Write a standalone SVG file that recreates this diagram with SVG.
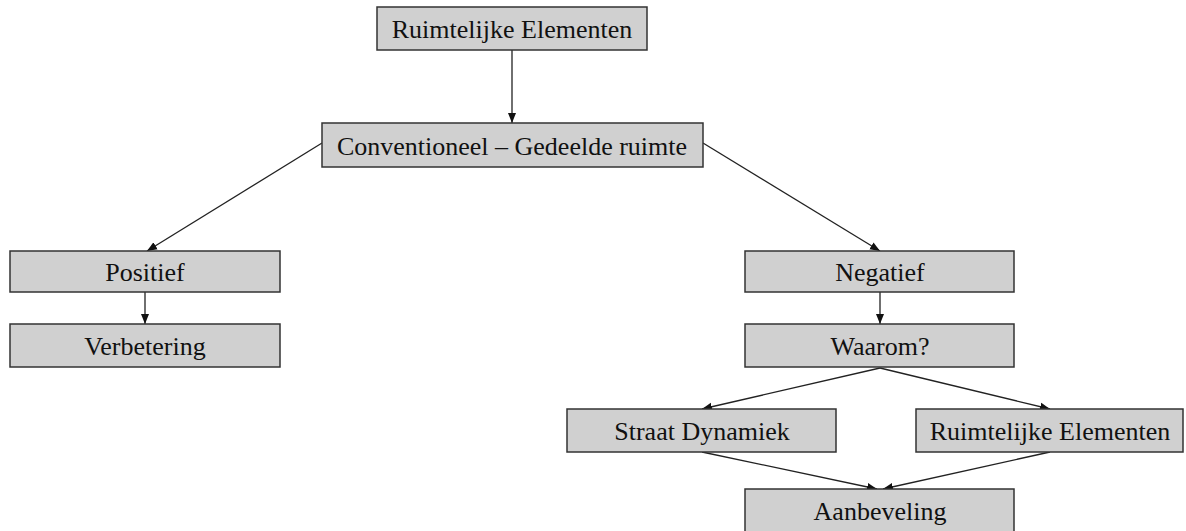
<svg xmlns="http://www.w3.org/2000/svg" width="1186" height="531" viewBox="0 0 1186 531">
<style>
.box{fill:#d0d0d0;stroke:#333;stroke-width:1.5}
.lbl{font-family:"Liberation Serif","Times New Roman",serif;font-size:26px;fill:#111;text-anchor:middle;dominant-baseline:central}
.edge{stroke:#222;stroke-width:1.3;fill:none;marker-end:url(#ah)}
</style>
<defs>
<marker id="ah" viewBox="0 0 10 10" refX="10" refY="5" markerWidth="10" markerHeight="10" markerUnits="userSpaceOnUse" orient="auto">
<path d="M0,1 L10,5 L0,9 Z" fill="#111"/>
</marker>
</defs>
<rect width="1186" height="531" fill="#fff"/>
<g id="connectors">
<line class="edge" x1="512" y1="50" x2="512" y2="123"/>
<line class="edge" x1="322" y1="143" x2="147" y2="251"/>
<line class="edge" x1="703" y1="143" x2="880" y2="251"/>
<line class="edge" x1="145" y1="292" x2="145" y2="324"/>
<line class="edge" x1="880" y1="292" x2="880" y2="324"/>
<line class="edge" x1="880" y1="368" x2="702" y2="409"/>
<line class="edge" x1="880" y1="368" x2="1050" y2="409"/>
<line class="edge" x1="702" y1="452" x2="877" y2="489"/>
<line class="edge" x1="1050" y1="452" x2="883" y2="489"/>
</g>
<g id="n_top"><rect class="box" x="377" y="7" width="270" height="43"/><text class="lbl" x="512" y="29">Ruimtelijke Elementen</text></g>
<g id="n_conv"><rect class="box" x="322" y="123" width="381" height="44"/><text class="lbl" x="512" y="146">Conventioneel – Gedeelde ruimte</text></g>
<g id="n_pos"><rect class="box" x="10" y="251" width="270" height="41"/><text class="lbl" x="145" y="272">Positief</text></g>
<g id="n_verb"><rect class="box" x="10" y="324" width="270" height="43"/><text class="lbl" x="145" y="346">Verbetering</text></g>
<g id="n_neg"><rect class="box" x="745" y="251" width="269" height="41"/><text class="lbl" x="880" y="272">Negatief</text></g>
<g id="n_waarom"><rect class="box" x="745" y="324" width="269" height="43"/><text class="lbl" x="880" y="346">Waarom?</text></g>
<g id="n_straat"><rect class="box" x="567" y="409" width="269" height="43"/><text class="lbl" x="702" y="431">Straat Dynamiek</text></g>
<g id="n_ruimte2"><rect class="box" x="916" y="409" width="267" height="43"/><text class="lbl" x="1050" y="431">Ruimtelijke Elementen</text></g>
<g id="n_aanb"><rect class="box" x="745" y="489" width="269" height="44"/><text class="lbl" x="880" y="511">Aanbeveling</text></g>
</svg>
